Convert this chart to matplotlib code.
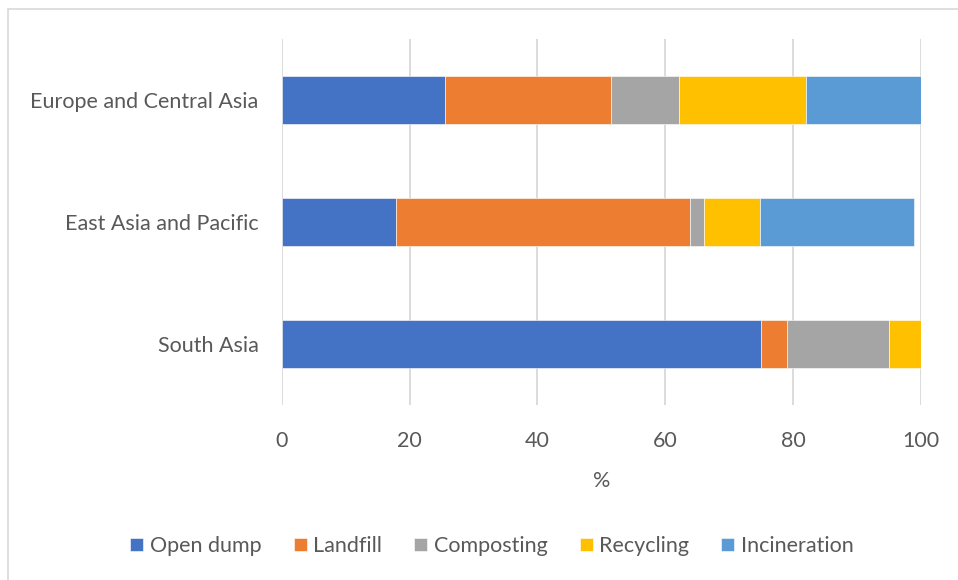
import matplotlib
matplotlib.use('Agg')
import matplotlib.pyplot as plt
from matplotlib.patches import Rectangle
import numpy as np

plt.rcParams['font.family'] = ['Lato', 'DejaVu Sans']

regions = ['South Asia', 'East Asia and Pacific', 'Europe and Central Asia']
methods = ['Open dump', 'Landfill', 'Composting', 'Recycling', 'Incineration']
colors = ['#4472C4', '#ED7D31', '#A5A5A5', '#FFC000', '#5B9BD5']

# share of waste treatment, % (rows follow regions)
open_dump = [75.0, 17.9, 25.5]
landfill = [4.0, 46.0, 26.0]
composting = [16.0, 2.1, 10.6]
recycling = [5.0, 8.9, 20.0]
incineration = [0.0, 24.1, 17.9]

series = [open_dump, landfill, composting, recycling, incineration]

fig = plt.figure(figsize=(9.58, 5.80), dpi=100)
ax = fig.add_axes([0.2944, 0.3017, 0.961 - 0.2944, 0.9328 - 0.3017])

y = np.arange(len(regions))
left = np.zeros(len(regions))
for name, vals, c in zip(methods, series, colors):
    ax.barh(y, vals, left=left, height=0.4, color=c, label=name,
            edgecolor='white', linewidth=0.4, zorder=3)
    left += np.array(vals)

ax.set_xlim(0, 100)
ax.set_ylim(-0.5, 2.5)
ax.set_xticks(np.arange(0, 101, 20))
ax.set_yticks(y)
ax.set_yticklabels(regions)
ax.grid(axis='x', color='#D9D9D9', linewidth=1.3, zorder=0)
ax.grid(axis='y', visible=False)
for s in ax.spines.values():
    s.set_visible(False)
ax.tick_params(axis='both', length=0, labelsize=15.5, colors='#595959')
ax.tick_params(axis='x', pad=19)
ax.tick_params(axis='y', pad=17)
ax.set_xlabel('%', fontsize=15.5, color='#595959', labelpad=14)

leg = fig.legend(loc='center', bbox_to_anchor=(492 / 958, 1 - 546 / 580), ncol=5,
                 frameon=False, fontsize=15.5, handlelength=0.6, handleheight=0.6,
                 handletextpad=0.3, columnspacing=1.5, labelcolor='#595959')

# chart frame
fig.patches.append(Rectangle((8 / 958, -0.1), 1.2, 1 - 9 / 580 + 0.1,
                             transform=fig.transFigure, fill=False,
                             edgecolor='#D9D9D9', linewidth=1.2))

fig.savefig('out.png', dpi=100)
